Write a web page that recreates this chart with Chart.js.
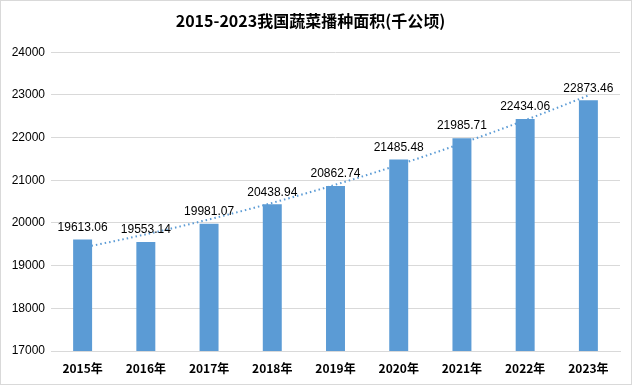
<!DOCTYPE html>
<html>
<head>
<meta charset="utf-8">
<script src="https://cdn.jsdelivr.net/npm/chart.js@4/dist/chart.umd.min.js"></script>
<style>
html,body{margin:0;padding:0;background:#fff;}
#wrap{position:absolute;left:0;top:0;width:630px;height:383px;border:1px solid #d9d9d9;}
</style>
</head>
<body>
<div id="wrap"><canvas id="c" width="630" height="383"></canvas></div>
<script>
const categories = ["2015年","2016年","2017年","2018年","2019年","2020年","2021年","2022年","2023年"];
const areaValues = [19613.06,19553.14,19981.07,20438.94,20862.74,21485.48,21985.71,22434.06,22873.46];
const yTicks = [17000,18000,19000,20000,21000,22000,23000,24000];

// order-2 polynomial trendline fitted to the data (least squares)
function polyFit2(ys){
  const xs = ys.map((_,i)=>i);
  let s=[0,0,0,0,0], t=[0,0,0];
  xs.forEach((x,i)=>{for(let k=0;k<5;k++)s[k]+=Math.pow(x,k);for(let k=0;k<3;k++)t[k]+=Math.pow(x,k)*ys[i];});
  const A=[[s[0],s[1],s[2],t[0]],[s[1],s[2],s[3],t[1]],[s[2],s[3],s[4],t[2]]];
  for(let i=0;i<3;i++){for(let j=i+1;j<3;j++){const f=A[j][i]/A[i][i];for(let k=i;k<4;k++)A[j][k]-=f*A[i][k];}}
  const c=[0,0,0];
  for(let i=2;i>=0;i--){let v=A[i][3];for(let k=i+1;k<3;k++)v-=A[i][k]*c[k];c[i]=v/A[i][i];}
  return c;
}
const coef = polyFit2(areaValues);
const trend = [];
for(let x=0;x<=categories.length-1;x+=0.25){trend.push({x:x, y:coef[0]+coef[1]*x+coef[2]*x*x});}

const labelPlugin = {
  id:'barLabels',
  afterDatasetsDraw(chart){
    const ctx=chart.ctx;
    const meta=chart.getDatasetMeta(0);
    ctx.save();
    ctx.font='12px "Liberation Sans", "Noto Sans", sans-serif';
    ctx.fillStyle='#000';
    ctx.textAlign='center';
    ctx.textBaseline='bottom';
    meta.data.forEach((el,i)=>{
      ctx.fillText(areaValues[i].toFixed(2), el.x, el.y-6);
    });
    ctx.restore();
  }
};

new Chart(document.getElementById('c'),{
  type:'bar',
  data:{
    labels:categories,
    datasets:[
      {type:'bar',data:areaValues,backgroundColor:'#5b9bd5',barPercentage:0.3,categoryPercentage:1,grouped:false,order:1},
      {type:'line',data:trend,xAxisID:'xl',borderColor:'#5b9bd5',borderWidth:2,borderDash:[1.5,3],pointRadius:0,fill:false,tension:0,order:2}
    ]
  },
  options:{
    responsive:false,animation:false,
    layout:{padding:{left:0,right:11,top:0,bottom:0}},
    plugins:{
      legend:{display:false},tooltip:{enabled:false},
      title:{display:true,text:'2015-2023我国蔬菜播种面积(千公顷)',color:'#000',
        font:{family:'"Noto Sans CJK SC", sans-serif',size:16,weight:'bold'},padding:{top:10,bottom:22}}
    },
    scales:{
      x:{grid:{display:false},border:{display:true,color:'#d9d9d9'},
        ticks:{color:'#000',font:{family:'"Noto Sans CJK SC", sans-serif',size:12,weight:'bold'},padding:2},
        afterFit(s){s.height=33;}},
      xl:{type:'linear',display:false,offset:false,position:'bottom',min:-0.5,max:categories.length-0.5},
      y:{min:17000,max:24000,
        afterBuildTicks(s){s.ticks=yTicks.map(v=>({value:v}));},
        grid:{color:'#d9d9d9',drawTicks:false},border:{display:false},
        ticks:{color:'#000',font:{family:'"Liberation Sans", sans-serif',size:12},padding:6,
          callback:(v)=>String(v)},
        afterFit(s){s.width=50;}}
    }
  },
  plugins:[labelPlugin]
});
</script>
</body>
</html>
